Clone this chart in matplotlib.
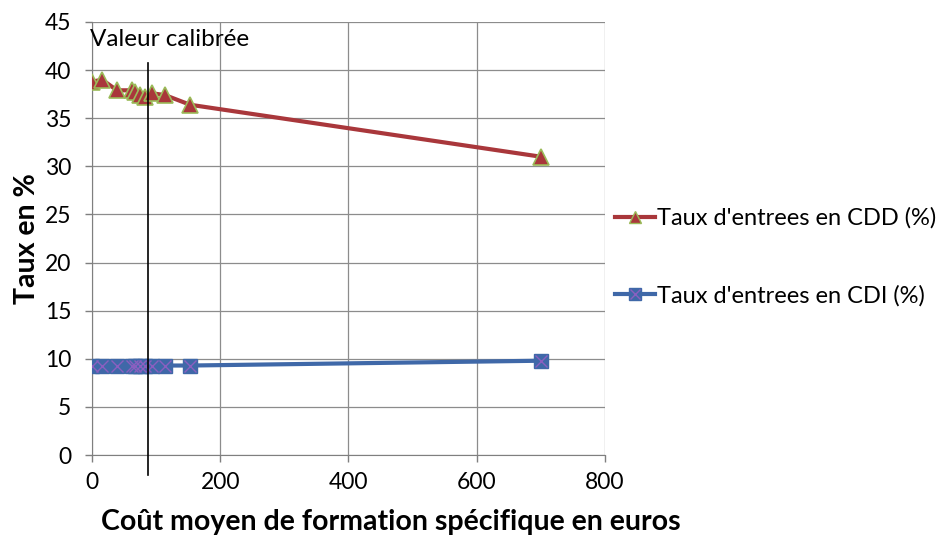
import matplotlib
matplotlib.use("Agg")
import matplotlib.pyplot as plt
from matplotlib.lines import Line2D

plt.rcParams['font.family'] = ['Lato', 'DejaVu Sans']

# Coût moyen de formation spécifique (euros)
cout = [0, 16, 39, 62, 67, 75, 83, 93, 114, 153, 700]
# Taux d'entrées en CDD (%)
taux_cdd = [38.8, 39.0, 37.9, 37.9, 37.7, 37.4, 37.2, 37.6, 37.4, 36.4, 31.0]
# Taux d'entrées en CDI (%)
taux_cdi = [9.3, 9.3, 9.2, 9.3, 9.3, 9.3, 9.3, 9.3, 9.3, 9.3, 9.8]

valeur_calibree = 87
xticks = [0, 200, 400, 600, 800]
yticks = [0, 5, 10, 15, 20, 25, 30, 35, 40, 45]

red = '#A9373B'
red_edge = '#9BBB59'
blue = '#3F68A8'
purple = '#8A5FC0'
grid_c = '#8C8C8C'

fig = plt.figure(figsize=(9.49, 5.39), dpi=100)
ax = fig.add_axes([0.0969, 0.1558, 0.5406, 0.8034])

ax.plot(cout, taux_cdd, color=red, lw=3, marker='^', ms=11,
        mfc=red, mec=red_edge, mew=1.2, zorder=4)
ax.plot(cout, taux_cdi, color=blue, lw=3, marker='s', ms=10,
        mfc=blue, mec=blue, zorder=4)
ax.plot(cout, taux_cdi, ls='none', marker='x', ms=9, mec=purple, mew=1,
        zorder=5)

ax.set_xlim(0, 800)
ax.set_ylim(0, 45)
ax.set_xticks(xticks)
ax.set_yticks(yticks)
ax.grid(True, color=grid_c, lw=0.9)
ax.set_axisbelow(True)
for s in ('top', 'right'):
    ax.spines[s].set_visible(False)
ax.spines['left'].set_color('#7F7F7F')
ax.spines['bottom'].set_color('#7F7F7F')
ax.tick_params(axis='both', colors='#7F7F7F', labelcolor='black',
               labelsize=16.5, length=5, width=1)
ax.tick_params(axis='x', pad=7)
ax.tick_params(axis='y', pad=10)

ax.set_xlabel('Coût moyen de formation spécifique en euros',
              fontsize=20.5, fontweight='bold', labelpad=12, x=0.582)
ax.set_ylabel('Taux en %', fontsize=20.5, fontweight='bold', labelpad=3)

# Trait vertical de la valeur calibrée
ax.plot([valeur_calibree, valeur_calibree], [40.7, -2.1], color='black',
        lw=1.2, clip_on=False, zorder=6)
ax.text(-3, 43.2, 'Valeur calibrée', fontsize=17.5, ha='left', va='center',
        zorder=7)

h_cdd = Line2D([], [], color=red, lw=3, marker='^', ms=9, mfc=red,
               mec=red_edge, mew=1)
h_cdi_s = Line2D([], [], color=blue, lw=3, marker='s', ms=8, mfc=blue,
                 mec=blue)
h_cdi_x = Line2D([], [], ls='none', marker='x', ms=7, mec=purple, mew=1)
fig.legend([h_cdd, (h_cdi_s, h_cdi_x)],
           ["Taux d'entrees en CDD (%)", "Taux d'entrees en CDI (%)"],
           loc='upper left', bbox_to_anchor=(0.638, 0.633), frameon=False,
           fontsize=17, labelspacing=2.37, handlelength=1.7,
           handletextpad=0.1, borderaxespad=0)

fig.savefig('out.png', dpi=100)
